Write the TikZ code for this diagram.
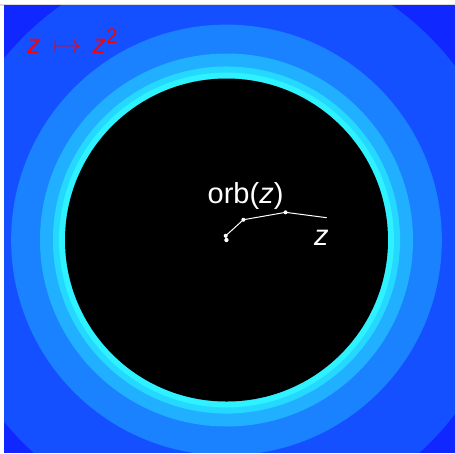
\documentclass[tikz,border=0pt]{standalone}
\usepackage{fontspec}
\setmainfont{Liberation Sans}
\usepackage{xcolor}
\usepackage{tikz}
\usetikzlibrary{positioning}
\definecolor{framegray}{HTML}{DCDCDC}
\definecolor{escape0}{HTML}{1028FF}
\definecolor{escape1}{HTML}{1450FF}
\definecolor{escape2}{HTML}{1A82FF}
\definecolor{escape3}{HTML}{20B0FF}
\definecolor{escape4}{HTML}{24D8FF}
\definecolor{escape5}{HTML}{2EF2FF}

\begin{document}
\begin{tikzpicture}[x=80.75pt, y=80.75pt,
  orbtext/.style={text=white, inner sep=0pt, font=\fontsize{14.5}{16}\selectfont},
  maptext/.style={text=red, inner sep=0pt, font=\fontsize{13.5}{15}\selectfont},
  orbit/.style={draw=white, line width=0.5pt}]
  \useasboundingbox (-1.4025,-1.3189) rectangle (1.4149,1.4861);

  % Thin frame strip at the top
  \fill[framegray] (-1.4025,1.4508) rectangle (1.4149,1.4613);

  % Escape-time bands: |z|^(2^n) > sqrt(10), radii 10^(1/2^(n+1))
  \begin{scope}
    \clip (-1.3777,-1.3127) rectangle (1.4149,1.4508);
    \fill[escape0] (-1.5,-1.5) rectangle (1.5,1.5);
    \foreach \n/\col in {1/escape1, 2/escape2, 3/escape3, 4/escape4, 5/escape5}
      \fill[\col] (0,0) circle ({10^(1/2^(\n+1))});
    % Filled Julia set: the unit disk
    \fill[black] (0,0) circle (1);
  \end{scope}

  % Orbit of z under squaring
  \coordinate (z0) at (0.6204,0.1381);
  \coordinate (z1) at (0.3658,0.1714);
  \coordinate (z2) at (0.1045,0.1254);
  \coordinate (z3) at (-0.0048,0.0262);
  \coordinate (z4) at (-0.0007,-0.0003);
  \coordinate (z5) at (0,0);
  \draw[orbit] (z0) -- (z1) -- (z2) -- (z3) -- (z4) -- (z5);
  \foreach \p in {z1,z2,z3,z4,z5}
    \fill[white] (\p) circle (1pt);

  % Labels
  \node[orbtext, anchor=base] (orblabel) at (0.118,0.229) {orb(\textit{z})};
  \node[orbtext, anchor=base] (zlabel) at (0.588,-0.031) {\textit{z}};
  \node[maptext, anchor=base west] (maplabel) at (-1.2353,1.1579)
    {\textit{z}\hspace{0.45em}$\mapsto$\hspace{0.4em}\textit{z}\raisebox{0.37em}{\upshape\fontsize{10.5}{12}\selectfont 2}};
\end{tikzpicture}
\end{document}
